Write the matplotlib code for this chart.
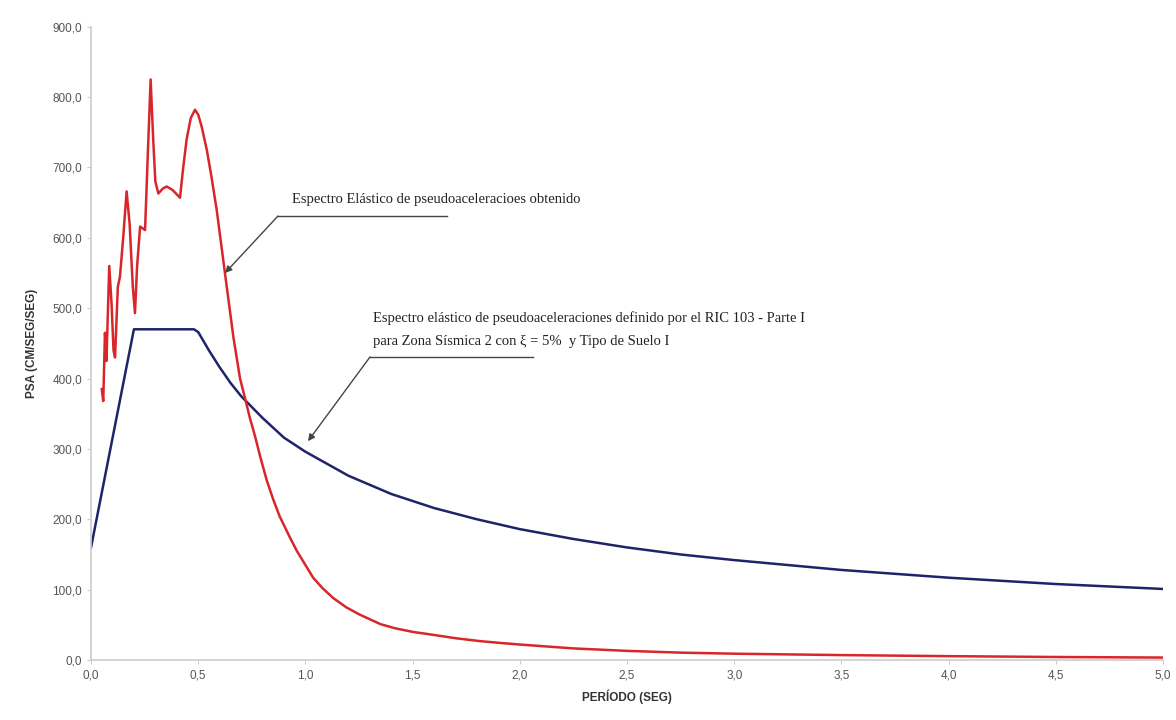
import numpy as np
import matplotlib.pyplot as plt
from matplotlib.ticker import FuncFormatter, MultipleLocator

# Espectro obtenido (rojo)
t_obt = [0.05, 0.057, 0.065, 0.072, 0.085, 0.096, 0.105, 0.112, 0.125, 0.135,
         0.150, 0.166, 0.180, 0.195, 0.205, 0.215, 0.229, 0.252, 0.265, 0.278,
         0.290, 0.300, 0.314, 0.335, 0.353, 0.380, 0.415, 0.430, 0.446, 0.465,
         0.485, 0.500, 0.516, 0.540, 0.560, 0.586, 0.625, 0.664, 0.695, 0.720,
         0.740, 0.765, 0.790, 0.820, 0.850, 0.880, 0.928, 0.960, 1.000, 1.036,
         1.080, 1.130, 1.190, 1.250, 1.300, 1.350, 1.420, 1.500, 1.580, 1.700,
         1.810, 1.900, 2.000, 2.250, 2.500, 2.750, 3.000, 3.500, 4.000, 4.500,
         5.000]
psa_obt = [385, 368, 465, 425, 560, 505, 440, 430, 530, 545,
           600, 666, 620, 530, 493, 560, 616, 611, 720, 825,
           740, 680, 663, 670, 673, 668, 657, 700, 740, 770,
           782, 775, 758, 725, 690, 640, 549, 459, 400, 370,
           345, 318, 288, 255, 228, 204, 174, 155, 135, 117,
           102, 88, 75, 65, 58, 51, 45, 40, 36.5, 31,
           27, 24.5, 22, 16.5, 13, 10.5, 9, 7, 5.5, 4.3,
           3.5]

# Espectro RIC 103 (azul)
t_ric = [0.0, 0.2, 0.48, 0.5, 0.55, 0.6, 0.65, 0.7, 0.8, 0.9, 1.0, 1.1, 1.2,
         1.4, 1.6, 1.8, 2.0, 2.25, 2.5, 2.75, 3.0, 3.5, 4.0, 4.5, 5.0]
psa_ric = [160, 470, 470, 466, 440, 416, 394, 375, 344, 316, 296, 279, 262,
           236, 216, 200, 186, 172, 160, 150, 142, 128, 117, 108, 101]

fig = plt.figure(figsize=(11.76, 7.2), dpi=100)
ax = fig.add_axes([0.0774, 0.0833, 0.9116, 0.8796])

ax.plot(t_ric, psa_ric, color="#1f2468", lw=1.8)
ax.plot(t_obt, psa_obt, color="#d8262b", lw=1.8)

ax.set_xlim(0, 5)
ax.set_ylim(0, 900)
ax.xaxis.set_major_locator(MultipleLocator(0.5))
ax.yaxis.set_major_locator(MultipleLocator(100))
fmt = FuncFormatter(lambda v, p: ("%.1f" % v).replace(".", ","))
ax.xaxis.set_major_formatter(fmt)
ax.yaxis.set_major_formatter(fmt)

for s in ["top", "right"]:
    ax.spines[s].set_visible(False)
for s in ["left", "bottom"]:
    ax.spines[s].set_color("#cccccc")
    ax.spines[s].set_linewidth(1.2)
ax.tick_params(colors="#cccccc", labelcolor="#555555", labelsize=8.5, length=3)
for lab in ax.get_xticklabels() + ax.get_yticklabels():
    lab.set_family("Liberation Sans")

ax.set_xlabel("PERÍODO (SEG)", fontsize=8.5, fontweight="bold", color="#333333",
              labelpad=6, family="Liberation Sans")
ax.set_ylabel("PSA (CM/SEG/SEG)", fontsize=8.5, fontweight="bold", color="#333333",
              labelpad=10, family="Liberation Sans")

serif = "Liberation Serif"
arrow = dict(arrowstyle="-|>", color="#444444", lw=1.0, mutation_scale=10, shrinkA=0, shrinkB=0)

# anotacion espectro obtenido
ax.plot([0.872, 1.659], [631, 631], color="#444444", lw=1.0)
ax.annotate("", xy=(0.625, 550), xytext=(0.872, 631), arrowprops=arrow)
ax.text(0.9375, 645, "Espectro Elástico de pseudoaceleracioes obtenido",
        family=serif, fontsize=10.5, color="#222222", va="bottom", ha="left")

# anotacion espectro RIC 103
ax.plot([1.301, 2.062], [430.6, 430.6], color="#444444", lw=1.0)
ax.annotate("", xy=(1.012, 311), xytext=(1.301, 430.6), arrowprops=arrow)
ax.text(1.315, 486, "Espectro elástico de pseudoaceleraciones definido por el RIC 103 - Parte I",
        family=serif, fontsize=10.5, color="#222222", va="center", ha="left")
ax.text(1.315, 453, "para Zona Sísmica 2 con ξ = 5%  y Tipo de Suelo I",
        family=serif, fontsize=10.5, color="#222222", va="center", ha="left")

fig.savefig("out.png", dpi=100)
